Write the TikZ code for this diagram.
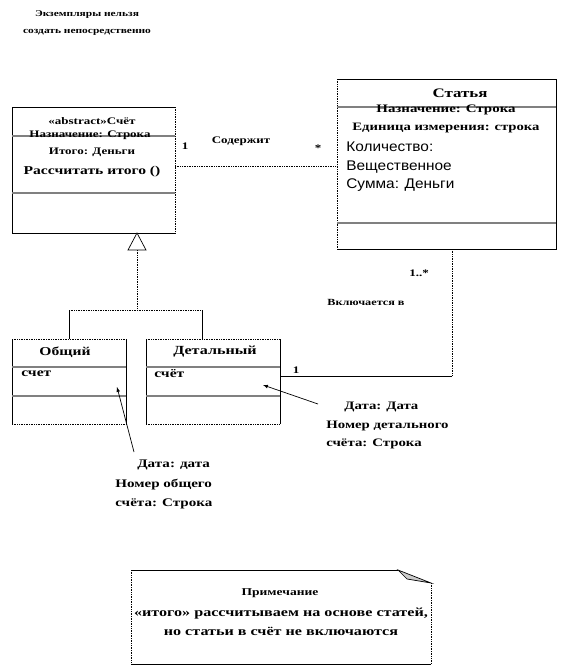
\documentclass[tikz,border=0pt]{standalone}
\usepackage{fontspec}
\setmainfont[FakeStretch=1.3]{Liberation Serif}
\newfontfamily\sansf[FakeStretch=1.1]{Liberation Sans}
\usetikzlibrary{positioning}

\begin{document}
\begin{tikzpicture}[x=1pt,y=-1pt,line width=0.7pt,
  lbl/.style={font=\fontsize{10}{12}\selectfont\bfseries,inner sep=1pt},
  big/.style={font=\fontsize{12}{15}\selectfont\bfseries,inner sep=1pt},
  attr/.style={font=\sansf\fontsize{14}{18.5}\selectfont,inner sep=0pt,anchor=north west,align=left},
  cls/.style={inner sep=0pt,outer sep=0pt},
  sep/.style={gray,line width=1.2pt},
  dots/.style={densely dotted}]
  \useasboundingbox (0,0) rectangle (560,669);
  \node[lbl,align=center,font=\fontsize{8.8}{17}\selectfont\bfseries] (title) at (87,23) {Экземпляры нельзя\\создать непосредственно};

  \node[cls,minimum width=163pt,minimum height=126pt] (schet) at (93.5,170) {};
  \node[cls,minimum width=219pt,minimum height=170pt] (statya) at (446.5,164) {};
  \node[cls,minimum width=114pt,minimum height=85pt] (obsh) at (69,381.5) {};
  \node[cls,minimum width=134pt,minimum height=85pt] (detal) at (213,381.5) {};
  \node[cls,minimum width=300pt,minimum height=94pt] (prim) at (281,617) {};

  \draw (schet.north east) -- (schet.north west) -- (schet.south west) -- (schet.south east);
  \draw[dots] (schet.north east) -- (schet.south east);
  \foreach \y in {136,193} \draw[sep] (schet.west |- 0,\y) -- (schet.east |- 0,\y);
  \draw (statya.north west) -- (statya.north east) -- (statya.south east) -- (statya.south west);
  \draw[dots] (statya.north west) -- (statya.south west);
  \foreach \y in {107,223} \draw[sep] (statya.west |- 0,\y) -- (statya.east |- 0,\y);
  \foreach \c in {obsh,detal}
  {
    \draw (\c.north west) -- (\c.south west) (\c.north east) -- (\c.south east);
    \draw[dots] (\c.north west) -- (\c.north east) (\c.south west) -- (\c.south east);
    \foreach \y in {367,396} \draw[sep] (\c.west |- 0,\y) -- (\c.east |- 0,\y);
  }

  \node[lbl] (schet1) at (92,121) {«abstract»Счёт};
  \node[lbl] (schet2) at (90,135) {Назначение: Строка};
  \node[lbl] (schet3) at (92,152) {Итого: Деньги};
  \node[big] (schet4) at (92,172) {Рассчитать итого ()};

  \node[lbl,font=\fontsize{13}{15}\selectfont\bfseries] (statya1) at (460,93) {Статья};
  \node[lbl,font=\fontsize{11.5}{13}\selectfont\bfseries] (statya2) at (446,110) {Назначение: Строка};
  \node[lbl,font=\fontsize{11.3}{13}\selectfont\bfseries] (statya3) at (446,128) {Единица измерения: строка};
  \node[attr] (statya4) at (346,142) {Количество:\\Вещественное\\Сумма: Деньги};

  \node[lbl,font=\fontsize{12}{14}\selectfont\bfseries] (obsh1) at (65,352) {Общий};
  \node[lbl,anchor=west,font=\fontsize{12}{14}\selectfont\bfseries] (obsh2) at (20,374) {счет};
  \node[lbl,font=\fontsize{12.4}{14}\selectfont\bfseries] (detal1) at (215,352) {Детальный};
  \node[lbl,anchor=west,font=\fontsize{12}{14}\selectfont\bfseries] (detal2) at (153,374) {счёт};

  \draw[dots] (schet.east |- 0,166) -- (statya.west |- 0,166);
  \node[lbl] (one1) at (185,146) {1};
  \node[lbl] (sod) at (241,141) {Содержит};
  \node[lbl] (many1) at (318,148) {*};

  \coordinate (tri) at (137,250);
  \draw[fill=white] (schet.south -| tri) -- ([xshift=-9pt]tri) -- ([xshift=9pt]tri) -- cycle;
  \draw[dots] (tri) -- (tri |- 0,310) coordinate (fork);
  \coordinate (dtop) at ([xshift=-11pt]detal.north);
  \draw[dots] (obsh.north |- fork) -- (dtop |- fork);
  \draw (obsh.north |- fork) -- (obsh.north);
  \draw (dtop |- fork) -- (dtop);

  \coordinate (sbot) at (statya.south -| 452,0);
  \draw[dots] (sbot) -- (sbot |- 0,376) coordinate (corner);
  \draw (corner) -- (detal.east |- corner);
  \node[lbl] (many2) at (419,273) {1..*};
  \node[lbl,font=\fontsize{9.4}{12}\selectfont\bfseries] (vkl) at (366,302) {Включается в};
  \node[lbl] (one2) at (296,370) {1};

  \node[lbl,anchor=north west,align=left,font=\fontsize{11.4}{18.5}\selectfont\bfseries] (ndet) at (325,401) {\hspace{18pt}Дата: Дата\\Номер детального\\счёта: Строка};
  \node[lbl,anchor=north west,align=left,font=\fontsize{11.6}{19.5}\selectfont\bfseries] (nobsh) at (114,459) {\hspace{22pt}Дата: дата\\Номер общего\\счёта: Строка};
  \coordinate (pobsh) at (117,387);
  \coordinate (pdet) at (263,385);
  \draw[-latex] ([xshift=20pt,yshift=7pt]nobsh.north west) -- (pobsh);
  \draw[-latex] ([xshift=-7pt,yshift=-3pt]ndet.north west) -- (pdet);

  \draw (prim.north west) -- ([xshift=-33pt]prim.north east);
  \filldraw[fill=gray!40] ([xshift=-33pt]prim.north east) -- ([yshift=-13pt]prim.north east) -- ([xshift=-24pt,yshift=-9pt]prim.north east) -- cycle;
  \draw[dots] ([yshift=-13pt]prim.north east) -- (prim.south east);
  \draw[dots] (prim.north west) -- (prim.south west);
  \draw (prim.south west) -- (prim.south east);
  \node[lbl,font=\fontsize{10.4}{12}\selectfont\bfseries] (primt) at (280,593) {Примечание};
  \node[lbl,align=center,font=\fontsize{12.4}{19.5}\selectfont\bfseries] (primb) at (281,622) {«итого» рассчитываем на основе статей,\\но статьи в счёт не включаются};
\end{tikzpicture}
\end{document}
